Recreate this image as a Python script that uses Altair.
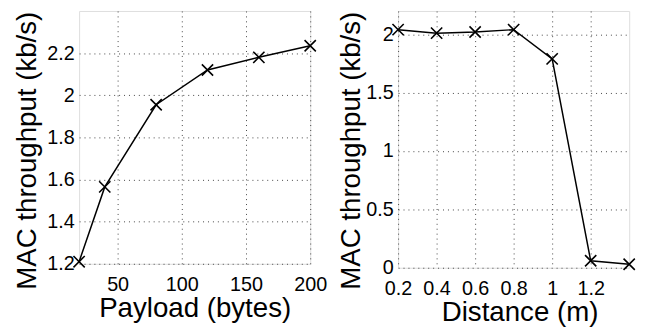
import altair as alt
import pandas as pd

payload = [20, 40, 80, 120, 160, 200]
thr_payload = [1.21, 1.565, 1.955, 2.12, 2.18, 2.235]

distance = [0.2, 0.4, 0.6, 0.8, 1.0, 1.2, 1.4]
thr_distance = [2.04, 2.01, 2.02, 2.04, 1.79, 0.06, 0.03]

left_xticks = [50, 100, 150, 200]
left_yticks = [1.2, 1.4, 1.6, 1.8, 2.0, 2.2]
right_xticks = [0.2, 0.4, 0.6, 0.8, 1.0, 1.2]
right_yticks = [0, 0.5, 1, 1.5, 2]

df1 = pd.DataFrame({"x": payload, "y": thr_payload})
df2 = pd.DataFrame({"x": distance, "y": thr_distance})

FONT = "Liberation Sans"
CROSS = "M-1,-1L1,1M-1,1L1,-1"

def axis(values, title, orient, tx=None, ty=None):
    kw = dict(
        values=values, title=title, format="~r", domain=False, ticks=False,
        labelFont=FONT, labelFontSize=20, labelColor="black",
        titleFont=FONT, titleFontSize=28, titleFontWeight="normal", titleColor="black",
        grid=True, gridDash=[1, 4], gridColor="#444", gridWidth=1,
        titleBaseline="alphabetic", labelFlush=False, labelOverlap=False,
    )
    if orient == "x":
        kw.update(labelPadding=11, titleY=ty, titleAlign="center")
        if tx is not None:
            kw.update(titleX=tx)
    else:
        kw.update(labelPadding=5, titleX=tx, titleY=ty, titleAlign="center", titleAngle=-90)
    return alt.Axis(**kw)

def panel(df, xdom, ydom, xt, yt, xtitle, ytitle, w, h, ytx, yty, xtx, xty):
    base = alt.Chart(df).encode(
        x=alt.X("x:Q", scale=alt.Scale(domain=xdom, nice=False, zero=False),
                axis=axis(xt, xtitle, "x", tx=xtx, ty=xty)),
        y=alt.Y("y:Q", scale=alt.Scale(domain=ydom, nice=False, zero=False),
                axis=axis(yt, ytitle, "y", tx=ytx, ty=yty)),
    )
    line = base.mark_line(color="black", strokeWidth=1.5)
    pts = base.mark_point(shape=CROSS, size=130, color="black", filled=False, strokeWidth=1.6, opacity=1)
    return (line + pts).properties(width=w, height=h)

left = panel(df1, [20, 200], [1.2, 2.4], left_xticks, left_yticks,
             "Payload (bytes)", "MAC throughput (kb/s)", 234, 256, -44, 141, None, 53)
right = panel(df2, [0.2, 1.4], [0, 2.2], right_xticks, right_yticks,
              "Distance (m)", "MAC throughput (kb/s)", 234, 260, -39, 141, 123, 53)

chart = alt.hconcat(left, right, spacing=89, bounds="flush").properties(
    padding={"left": 5, "top": 0, "right": 5, "bottom": 0}
).configure_view(stroke="black", strokeWidth=1).configure(background="white")

chart.save("out.html", embed_options={"renderer": "svg", "actions": False})
